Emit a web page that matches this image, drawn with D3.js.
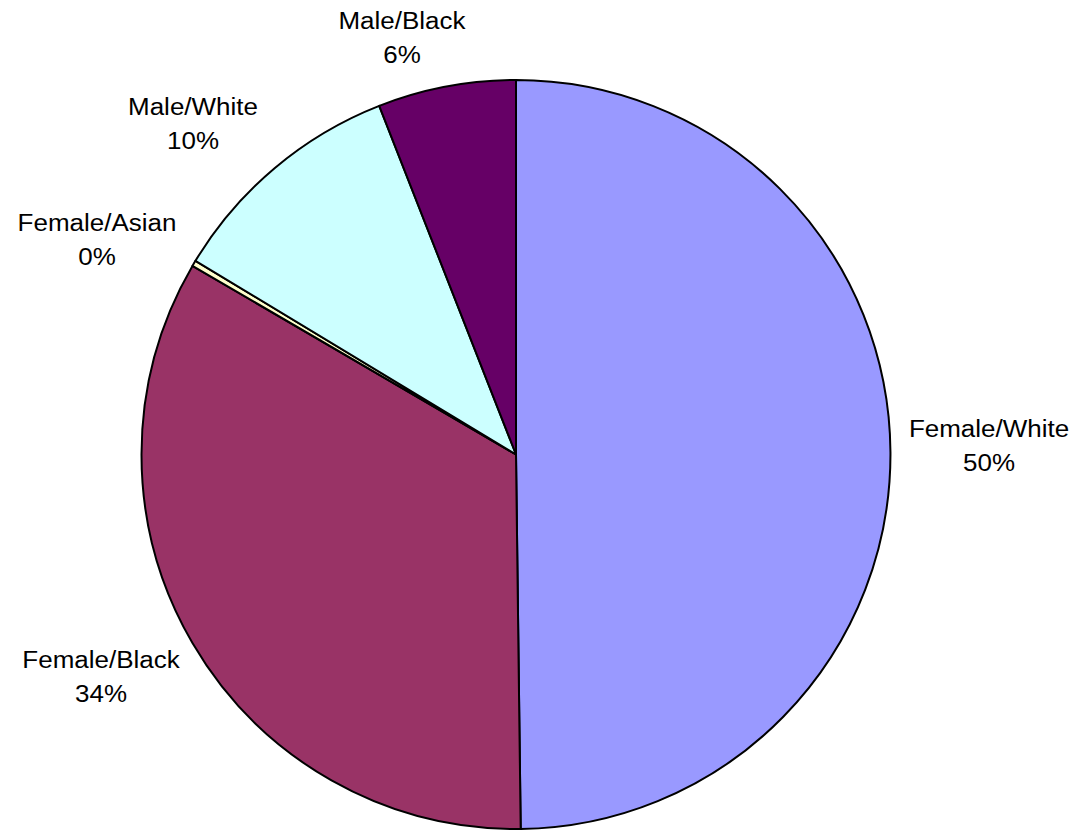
<!DOCTYPE html>
<html>
<head>
<meta charset="utf-8">
<script src="https://cdn.jsdelivr.net/npm/d3@7"></script>
<style>
  html, body { margin: 0; padding: 0; background: #fff; }
  svg { display: block; }
  text { font-family: "Liberation Sans", Arial, sans-serif; fill: #000; }
</style>
</head>
<body>
<svg id="chart" width="1078" height="830"></svg>
<script>
// Data
const categories = ["Female/White", "Female/Black", "Female/Asian", "Male/White", "Male/Black"];
const values = [49.8, 33.6, 0.25, 10.4, 5.95];
const percentLabels = ["50%", "34%", "0%", "10%", "6%"];
const colors = ["#9999FF", "#993366", "#FFFFCC", "#CCFFFF", "#660066"];

// Layout (label anchor centres and first-line baselines)
const labelLayout = [
  { x: 989, y: 437 },
  { x: 101, y: 668 },
  { x: 97,  y: 231 },
  { x: 193, y: 115 },
  { x: 402, y: 29 }
];

const W = 1078, H = 830;
const cx = 516, cy = 454.5, R = 374.5;

const svg = d3.select("#chart");
const pie = d3.pie().sort(null).value(d => d.v);
const arc = d3.arc().innerRadius(0).outerRadius(R);

const data = categories.map((c, i) => ({ c, v: values[i], p: percentLabels[i], col: colors[i], i }));
const arcs = pie(data);

const g = svg.append("g").attr("transform", `translate(${cx},${cy})`);
g.selectAll("path")
  .data(arcs)
  .join("path")
  .attr("d", arc)
  .attr("fill", d => d.data.col)
  .attr("stroke", "#000")
  .attr("stroke-width", 2)
  .attr("stroke-linejoin", "round");

const lineGap = 34.5;
const labels = svg.append("g");
data.forEach((d, i) => {
  const L = labelLayout[i];
  const t = labels.append("g").attr("transform", `translate(${L.x},${L.y}) scale(1.13,1)`);
  t.append("text").attr("text-anchor", "middle").attr("font-size", 23).text(d.c);
  t.append("text").attr("text-anchor", "middle").attr("font-size", 23).attr("y", lineGap).text(d.p);
});
</script>
</body>
</html>
